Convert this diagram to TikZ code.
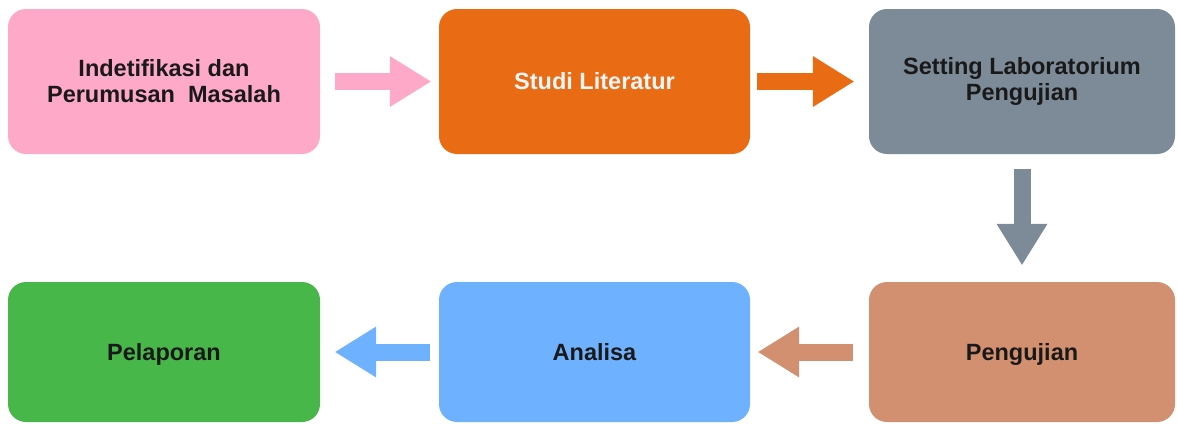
\documentclass[tikz,border=0pt]{standalone}
\usepackage{fontspec}
\setmainfont{Liberation Sans}
\usetikzlibrary{arrows.meta}
\definecolor{pinkc}{RGB}{255,169,201}
\definecolor{orangec}{RGB}{233,108,20}
\definecolor{grayc}{RGB}{125,139,153}
\definecolor{brownc}{RGB}{211,144,112}
\definecolor{bluec}{RGB}{110,177,255}
\definecolor{greenc}{RGB}{72,183,73}
\definecolor{txtc}{RGB}{25,25,25}
\definecolor{whitetxt}{RGB}{245,245,245}
\tikzset{
  box/.style={rectangle, rounded corners=18pt, inner sep=0pt, align=center,
    font=\fontsize{23.5}{26}\selectfont\bfseries, text=txtc},
  oneline/.style={text height=16.5pt, text depth=0pt},
  topbox/.style={box, minimum height=145pt},
  botbox/.style={box, minimum height=140pt},
  barrow/.style={line width=17pt,
    -{Triangle[length=41pt,width=51pt,line width=0pt]}},
}
\begin{document}
\begin{tikzpicture}[x=1pt,y=-1pt]
\useasboundingbox (0,0) rectangle (1177,423);
\node[topbox, fill=pinkc, minimum width=312pt] (b1) at (164,81.5)
  {Indetifikasi dan\\Perumusan\ \ Masalah};
\node[topbox, oneline, fill=orangec, minimum width=311pt, text=whitetxt] (b2) at (594.5,81.5)
  {Studi Literatur};
\node[topbox, fill=grayc, minimum width=306pt] (b3) at (1022,81.5)
  {Setting Laboratorium\\Pengujian};
\node[botbox, oneline, fill=brownc, minimum width=306pt] (b4) at (1022,352)
  {Pengujian};
\node[botbox, oneline, fill=bluec, minimum width=311pt] (b5) at (594.5,352)
  {Analisa};
\node[botbox, oneline, fill=greenc, minimum width=312pt] (b6) at (164,352)
  {Pelaporan};
\draw[barrow, pinkc, shorten <=15pt, shorten >=8pt] (b1) -- (b2);
\draw[barrow, orangec, shorten <=7pt, shorten >=15pt] (b2) -- (b3);
\draw[barrow, grayc, shorten <=15pt, shorten >=17pt] (b3) -- (b4);
\draw[barrow, brownc, shorten <=16pt, shorten >=8pt] (b4) -- (b5);
\draw[barrow, bluec, shorten <=9pt, shorten >=15pt] (b5) -- (b6);
\end{tikzpicture}
\end{document}
